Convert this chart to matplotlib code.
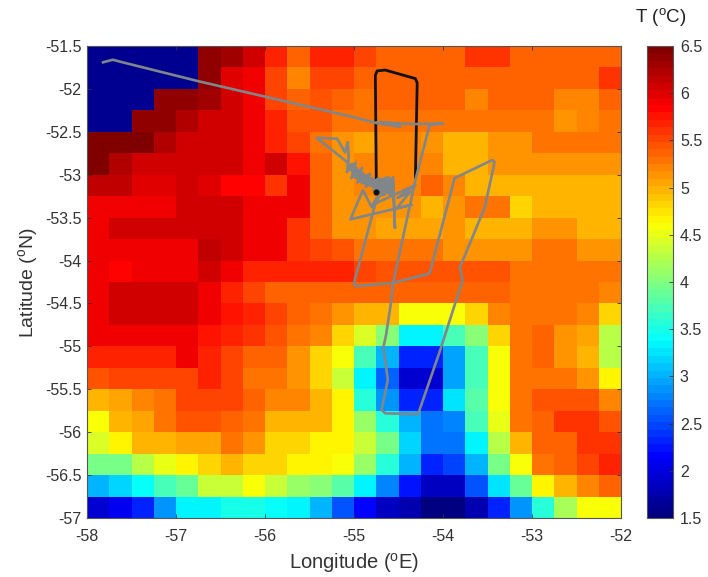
#!/usr/bin/env python3
"""Sea surface temperature grid with ship tracks"""
import numpy as np
import matplotlib
matplotlib.use('Agg')
import matplotlib.pyplot as plt
from matplotlib.colors import LinearSegmentedColormap

plt.rcParams['font.family'] = ['Liberation Sans', 'DejaVu Sans']
plt.rcParams['mathtext.fontset'] = 'custom'
plt.rcParams['mathtext.rm'] = 'Liberation Sans'

W, H = 708, 577

lon_edges = np.arange(-58, -51.99, 0.25)
lat_edges = np.arange(-51.5, -57.01, -0.25)

# rows from north to south, columns from west to east
temp = np.array([
    [1.6, 1.6, 1.6, 1.6, 1.6, 6.4, 6.3, 6.05, 5.7, 5.4, 5.7, 5.7, 5.55, 5.35, 5.35, 5.35, 5.35, 5.6, 5.6, 5.35, 5.35, 5.35, 5.35, 5.35],
    [1.6, 1.6, 1.6, 1.6, 1.6, 6.4, 6.0, 5.95, 5.55, 5.2, 5.55, 5.55, 5.4, 5.35, 5.35, 5.35, 5.35, 5.35, 5.35, 5.35, 5.35, 5.35, 5.35, 5.6],
    [1.6, 1.6, 1.6, 6.4, 6.4, 6.3, 6.05, 5.95, 5.5, 5.4, 5.45, 5.35, 5.3, 5.35, 5.35, 5.35, 5.35, 5.2, 5.35, 5.35, 5.35, 5.2, 5.2, 5.35],
    [1.6, 1.6, 6.4, 6.4, 6.25, 6.1, 6.05, 5.95, 5.65, 5.45, 5.45, 5.3, 5.25, 5.25, 5.25, 5.25, 5.25, 5.25, 5.25, 5.25, 5.25, 5.1, 5.2, 5.3],
    [6.45, 6.45, 6.45, 6.25, 6.1, 6.1, 6.05, 5.95, 5.7, 5.5, 5.25, 5.1, 5.05, 5.2, 5.2, 5.15, 4.95, 4.95, 5.1, 5.1, 5.25, 5.25, 5.25, 5.25],
    [6.45, 6.2, 6.1, 6.1, 6.1, 6.1, 6.05, 5.95, 6.1, 5.75, 5.35, 5.15, 5.2, 5.2, 5.2, 5.2, 4.95, 4.95, 5.1, 5.1, 5.1, 5.1, 5.1, 5.1],
    [6.15, 6.15, 6.0, 6.0, 6.1, 6.0, 5.85, 5.85, 5.6, 5.95, 5.35, 5.15, 5.2, 5.2, 5.2, 5.35, 5.2, 5.0, 5.0, 5.0, 5.0, 5.0, 5.0, 5.0],
    [5.95, 5.95, 5.95, 5.95, 6.1, 6.1, 6.1, 5.95, 5.95, 5.95, 5.35, 5.15, 5.15, 5.15, 5.15, 5.0, 5.1, 5.25, 5.25, 4.85, 5.0, 5.0, 5.0, 5.0],
    [5.95, 6.1, 6.1, 6.1, 6.1, 6.1, 6.05, 5.95, 5.95, 5.6, 5.35, 5.15, 5.1, 5.05, 5.05, 5.05, 5.15, 5.0, 4.95, 4.95, 5.15, 5.15, 5.0, 5.0],
    [5.95, 5.95, 5.95, 5.95, 5.95, 6.15, 6.05, 5.95, 5.95, 5.6, 5.55, 5.45, 5.3, 5.3, 5.3, 5.3, 5.15, 5.15, 5.15, 5.15, 5.3, 5.3, 5.15, 5.15],
    [5.95, 5.8, 5.95, 5.95, 5.95, 6.05, 5.9, 5.65, 5.65, 5.65, 5.65, 5.65, 5.55, 5.45, 5.45, 5.45, 5.45, 5.45, 5.45, 5.3, 5.3, 5.3, 5.3, 5.3],
    [5.95, 6.05, 6.05, 6.05, 6.05, 5.95, 5.7, 5.5, 5.4, 5.4, 5.4, 5.4, 5.4, 5.4, 5.4, 5.4, 5.4, 5.4, 5.4, 5.3, 5.3, 5.3, 5.3, 5.2],
    [5.95, 6.05, 6.05, 6.05, 6.05, 5.95, 5.75, 5.7, 5.55, 5.35, 5.3, 5.1, 4.95, 5.0, 4.6, 4.6, 4.6, 4.8, 5.2, 5.3, 5.3, 5.3, 5.2, 4.85],
    [5.95, 5.95, 5.95, 5.95, 5.95, 5.75, 5.7, 5.6, 5.45, 5.3, 5.2, 4.85, 4.4, 4.0, 3.3, 3.3, 3.75, 4.05, 4.85, 5.25, 5.35, 5.15, 5.05, 4.3],
    [5.7, 5.7, 5.7, 5.7, 5.95, 5.7, 5.55, 5.4, 5.35, 5.1, 4.85, 4.6, 3.75, 3.0, 2.3, 2.3, 2.95, 3.7, 4.55, 5.25, 5.35, 5.15, 4.95, 4.25],
    [5.45, 5.55, 5.55, 5.55, 5.55, 5.65, 5.55, 5.3, 5.25, 5.1, 4.85, 4.35, 3.35, 2.6, 1.95, 1.95, 2.95, 3.7, 4.6, 5.25, 5.3, 5.3, 5.1, 4.7],
    [5.0, 5.05, 5.2, 5.25, 5.5, 5.5, 5.5, 5.35, 5.2, 5.2, 5.0, 4.65, 3.6, 2.9, 2.3, 2.3, 3.25, 3.8, 4.6, 5.25, 5.45, 5.45, 5.45, 5.2],
    [4.6, 5.0, 5.05, 5.25, 5.45, 5.45, 5.4, 5.3, 4.95, 4.95, 4.95, 4.65, 4.1, 3.55, 3.0, 2.7, 2.75, 3.7, 4.5, 5.3, 5.4, 5.6, 5.6, 5.45],
    [4.4, 4.7, 4.95, 4.95, 5.05, 5.05, 5.3, 5.15, 4.85, 4.85, 4.7, 4.7, 4.35, 3.95, 3.2, 2.7, 2.7, 3.3, 4.3, 4.95, 5.4, 5.4, 5.6, 5.6],
    [3.95, 3.95, 4.3, 4.5, 4.65, 4.8, 5.0, 4.8, 4.8, 4.7, 4.7, 4.55, 4.15, 3.6, 3.05, 2.3, 2.45, 3.0, 3.95, 4.6, 5.3, 5.4, 5.5, 5.65],
    [3.0, 3.2, 3.4, 3.7, 3.9, 4.35, 4.35, 4.55, 4.35, 4.15, 4.05, 3.8, 3.35, 2.75, 2.25, 1.85, 1.85, 2.55, 3.25, 3.9, 4.7, 5.0, 5.2, 5.35],
    [1.9, 2.05, 2.35, 2.9, 3.35, 3.35, 3.5, 3.5, 3.45, 3.3, 3.0, 2.55, 2.2, 1.85, 1.8, 1.55, 1.55, 1.8, 2.3, 2.9, 3.6, 4.2, 4.6, 4.6],
])

grey_lon = [-57.82, -57.71, -57.60, -56.75, -56.00, -55.04, -54.74, -54.48, -54.57, -54.74,
            -54.31, -54.00, -54.15, -54.31, -54.56, -54.58, -54.64, -54.67, -54.62, -54.69,
            -54.65, -54.28, -54.03, -53.78, -53.81, -53.53, -53.42, -53.45, -53.87, -54.15,
            -54.56, -54.98, -55.00, -54.74, -54.79, -54.31, -54.51, -54.37, -54.52, -54.35,
            -55.04, -54.90, -54.80, -54.56, -54.54, -54.56, -54.57, -54.60, -54.57, -54.67,
            -54.64, -54.78, -54.72, -54.87, -54.82, -54.96, -54.91, -55.03, -54.98, -55.08,
            -55.06, -55.07, -55.10, -55.19, -55.42, -55.08]
grey_lat = [-51.69, -51.66, -51.69, -51.91, -52.09, -52.32, -52.40, -52.44, -52.40, -52.39,
            -52.41, -52.40, -52.42, -53.06, -54.26, -54.46, -54.87, -55.01, -55.39, -55.74,
            -55.78, -55.79, -55.04, -54.23, -54.08, -53.38, -52.85, -52.83, -53.04, -54.15,
            -54.26, -54.30, -54.26, -53.26, -53.35, -53.12, -53.27, -53.20, -53.39, -53.35,
            -53.52, -53.18, -53.38, -53.03, -53.62, -53.10, -53.06, -53.21, -53.06, -53.22,
            -53.09, -53.18, -53.04, -53.14, -52.99, -53.09, -52.92, -53.04, -52.86, -52.97,
            -52.81, -52.62, -52.74, -52.58, -52.57, -52.85]
# dense wiggles where the ship stayed on station
blob_lon = [-55.03, -54.97, -54.98, -54.90, -54.91, -54.82, -54.87, -54.76, -54.78, -54.67, -54.69, -54.58,
            -54.64, -54.62, -54.75, -54.85, -54.95, -55.00]
blob_lat = [-52.90, -53.02, -52.95, -53.08, -53.00, -53.10, -53.08, -53.13, -53.08, -53.22, -53.10, -53.22,
            -53.14, -53.05, -53.10, -53.04, -52.99, -52.92]

black_lon = [-54.75, -54.75, -54.76, -54.74, -54.65, -54.31, -54.29, -54.31]
black_lat = [-53.20, -53.03, -51.84, -51.79, -51.78, -51.88, -51.93, -53.03]

lon_ticks = [-58, -57, -56, -55, -54, -53, -52]
lat_ticks = [-51.5, -52, -52.5, -53, -53.5, -54, -54.5, -55, -55.5, -56, -56.5, -57]
cbar_ticks = [1.5, 2, 2.5, 3, 3.5, 4, 4.5, 5, 5.5, 6, 6.5]


def px_axes(fig, left, top, right, bottom):
    return fig.add_axes([left / W, 1 - bottom / H, (right - left) / W, (bottom - top) / H])


# MATLAB flavour of jet, matplotlib's own one is shifted a bit
jet64 = LinearSegmentedColormap.from_list('matlab_jet', [
    (0.0, (0, 0, 0.5)), (0.125, (0, 0, 1)), (0.375, (0, 1, 1)),
    (0.625, (1, 1, 0)), (0.875, (1, 0, 0)), (1.0, (0.5, 0, 0))], N=64)

fig = plt.figure(figsize=(W / 100, H / 100), dpi=100)
ax = px_axes(fig, 87, 46, 621, 518)
cax = px_axes(fig, 647, 46, 673, 518)

mesh = ax.pcolormesh(lon_edges, lat_edges, temp, cmap=jet64, vmin=1.5, vmax=6.5)

GREY = '#808689'
ax.plot(black_lon, black_lat, color='#111111', lw=2.0, zorder=3, solid_joinstyle='round')
ax.plot(grey_lon, grey_lat, color=GREY, lw=1.9, zorder=4, solid_joinstyle='round')
ax.plot(blob_lon, blob_lat, color=GREY, lw=4.2, zorder=4, solid_joinstyle='round')
# the black track ends on top of the grey cluster
ax.plot(black_lon[0], black_lat[0], 'o', color='#111111', ms=3.4, zorder=5)

ax.set_xlim(-58, -52)
ax.set_ylim(-57, -51.5)
ax.set_xticks(lon_ticks)
ax.set_xticklabels([str(v) for v in lon_ticks])
ax.set_yticks(lat_ticks)
ax.set_yticklabels([f'{v:g}' for v in lat_ticks])
ax.tick_params(direction='in', top=True, right=True, length=3, width=0.6,
               labelsize=11.5, colors='#333333', pad=4)
ax.tick_params(axis='x', pad=8)
for s in ax.spines.values():
    s.set_linewidth(0.8)
    s.set_color('#555555')
ax.set_xlabel(r'Longitude ($^{\mathrm{o}}$E)', fontsize=14.5, color='#333333', labelpad=5)
ax.set_ylabel(r'Latitude ($^{\mathrm{o}}$N)', fontsize=14, color='#333333', labelpad=3)

cb = fig.colorbar(mesh, cax=cax)
cb.set_ticks(cbar_ticks)
cb.set_ticklabels([f'{v:g}' for v in cbar_ticks])
cb.ax.tick_params(direction='in', length=3, width=0.6, labelsize=11.5, colors='#333333', pad=5)
cb.outline.set_linewidth(0.8)
cb.outline.set_edgecolor('#555555')
fig.text(661 / W, 1 - 18 / H, r'T ($^{\mathrm{o}}$C)', ha='center', va='center',
         fontsize=13.5, color='#222222')

fig.savefig('out.png', dpi=100)
